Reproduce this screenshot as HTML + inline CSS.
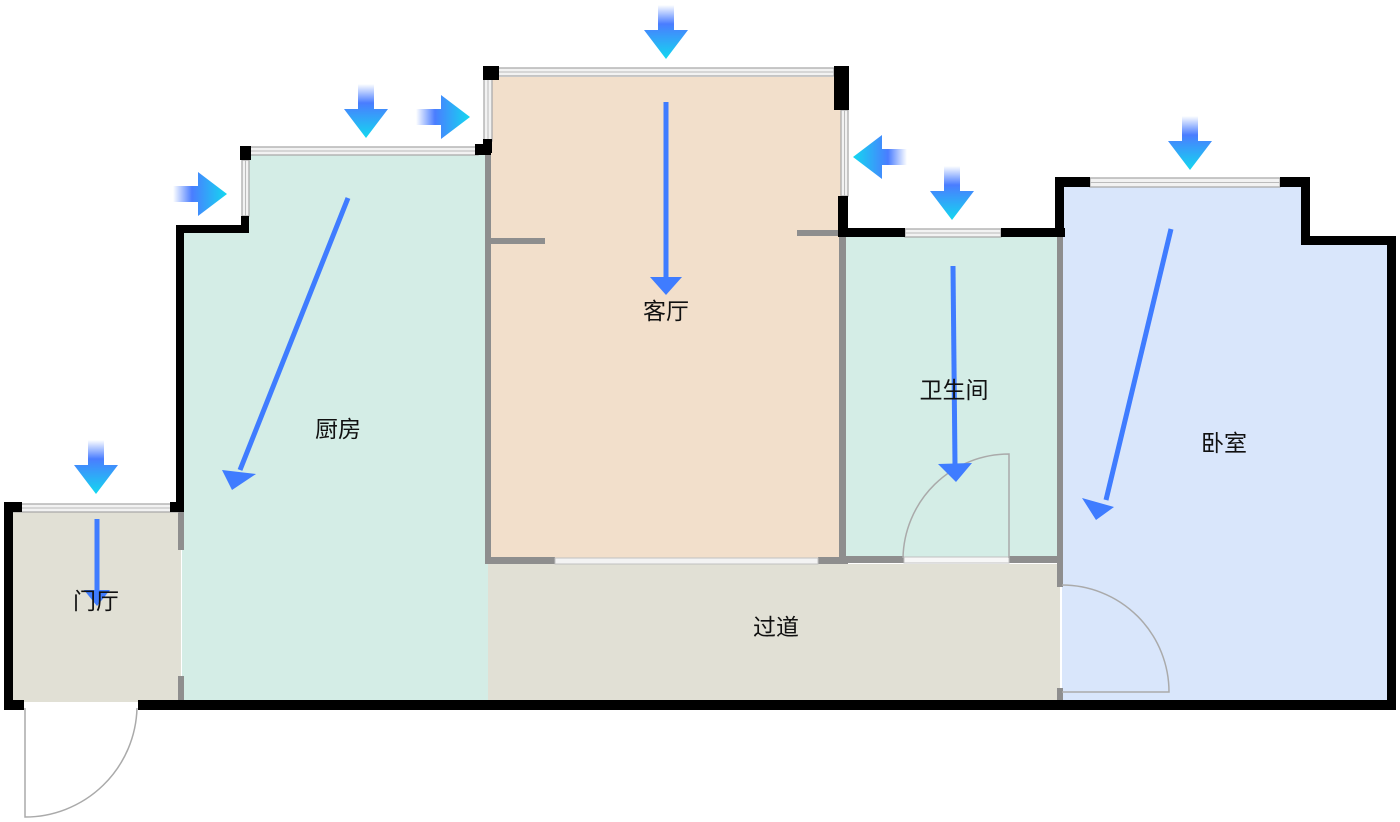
<!DOCTYPE html>
<html><head><meta charset="utf-8"><style>
html,body{margin:0;padding:0;background:#fff;width:1400px;height:822px;overflow:hidden}
text{font-family:"Liberation Sans","Noto Sans CJK SC",sans-serif;font-size:23px;fill:#111}
</style></head><body>
<svg width="1400" height="822" viewBox="0 0 1400 822" xmlns="http://www.w3.org/2000/svg">
<defs>
<linearGradient id="gd" x1="0" y1="0" x2="0" y2="1"><stop offset="0" stop-color="#fff"/><stop offset="0.35" stop-color="#4a7dff"/><stop offset="1" stop-color="#13d8f0"/></linearGradient>
<linearGradient id="gr" x1="0" y1="0" x2="1" y2="0"><stop offset="0" stop-color="#fff"/><stop offset="0.35" stop-color="#4a7dff"/><stop offset="1" stop-color="#13d8f0"/></linearGradient>
<linearGradient id="gl" x1="1" y1="0" x2="0" y2="0"><stop offset="0" stop-color="#fff"/><stop offset="0.35" stop-color="#4a7dff"/><stop offset="1" stop-color="#13d8f0"/></linearGradient>
<g id="ad"><polygon points="-8,0 8,0 8,25 22,25 0,54 -22,25 -8,25" fill="url(#gd)"/></g>
<g id="ar"><polygon points="0,-8 0,8 25,8 25,22 54,0 25,-22 25,-8" fill="url(#gr)"/></g>
<g id="al"><polygon points="0,-8 0,8 -25,8 -25,22 -54,0 -25,-22 -25,-8" fill="url(#gl)"/></g>
</defs>
<rect x="13" y="512" width="168" height="190" fill="#e1e0d5"/>
<polygon points="182,232 249,232 249,155 488,155 488,702 182,702" fill="#d4ede6"/>
<rect x="490" y="77" width="352" height="484" fill="#f2dfcb"/>
<rect x="488" y="564" width="572" height="138" fill="#e1e0d5"/>
<rect x="846" y="237" width="213" height="322" fill="#d4ede6"/>
<polygon points="1062,187 1305,187 1305,245 1390,245 1390,702 1062,702" fill="#d9e6fb"/>
<g fill="#8e8e8e">
<rect x="485" y="152" width="6" height="412"/>
<rect x="491" y="238" width="54" height="6"/>
<rect x="797" y="230" width="44" height="6"/>
<rect x="839" y="232" width="7" height="330"/>
<rect x="485" y="557" width="70" height="7"/>
<rect x="818" y="557" width="30" height="7"/>
<rect x="846" y="556" width="58" height="7"/>
<rect x="1009" y="556" width="52" height="7"/>
<rect x="1057" y="237" width="6" height="350"/>
<rect x="1057" y="688" width="6" height="14"/>
<rect x="178" y="512" width="6" height="38"/>
<rect x="178" y="676" width="6" height="26"/>
</g>
<rect x="555" y="558" width="263" height="6" fill="#f3f3f3" stroke="#c0c0c0" stroke-width="1"/>
<rect x="904" y="557" width="105" height="6" fill="#f7f7f7" stroke="#c0c0c0" stroke-width="1"/>
<g fill="#f2f2f2" stroke="#aaa" stroke-width="1.3">
<rect x="13" y="504" width="165" height="8"/>
<rect x="249" y="147" width="229" height="8"/>
<rect x="242" y="160" width="7" height="56"/>
<rect x="484" y="79" width="8" height="62"/>
<rect x="492" y="68" width="342" height="8"/>
<rect x="841" y="110" width="7" height="86"/>
<rect x="905" y="229" width="96" height="8"/>
<rect x="1090" y="178" width="190" height="9"/>
</g>
<g stroke="#bbb" stroke-width="1">
<line x1="13" y1="508" x2="178" y2="508"/>
<line x1="249" y1="151" x2="478" y2="151"/>
<line x1="245.5" y1="160" x2="245.5" y2="216"/>
<line x1="488" y1="79" x2="488" y2="141"/>
<line x1="492" y1="72" x2="834" y2="72"/>
<line x1="844.5" y1="110" x2="844.5" y2="196"/>
<line x1="905" y1="233" x2="1001" y2="233"/>
<line x1="1090" y1="182.5" x2="1280" y2="182.5"/>
</g>
<g fill="#000">
<rect x="4" y="502" width="9" height="208"/>
<rect x="4" y="502" width="18" height="10"/>
<rect x="170" y="502" width="14" height="10"/>
<rect x="176" y="225" width="8" height="287"/>
<rect x="176" y="225" width="73" height="8"/>
<rect x="241" y="216" width="8" height="17"/>
<rect x="240" y="146" width="11" height="14"/>
<rect x="475" y="144" width="16" height="11"/>
<rect x="483" y="66" width="16" height="14"/>
<rect x="483" y="139" width="9" height="14"/>
<rect x="834" y="66" width="15" height="44"/>
<rect x="838" y="196" width="10" height="41"/>
<rect x="838" y="228" width="67" height="9"/>
<rect x="1001" y="228" width="64" height="9"/>
<rect x="1055" y="177" width="9" height="60"/>
<rect x="1055" y="177" width="35" height="10"/>
<rect x="1280" y="177" width="30" height="10"/>
<rect x="1301" y="177" width="9" height="68"/>
<rect x="1301" y="236" width="95" height="9"/>
<rect x="1387" y="236" width="9" height="474"/>
<rect x="138" y="700" width="1258" height="10"/>
<rect x="4" y="700" width="20" height="10"/>
</g>
<g fill="none" stroke="#aaa" stroke-width="1.5">
<path d="M25,708 V817 A112,112 0 0 0 137,708"/>
<path d="M1009,558 V454 A106,106 0 0 0 903,558"/>
<path d="M1062,692 H1169 A107,107 0 0 0 1062,585"/>
</g>
<g stroke="#3f7cff" stroke-width="5" fill="#3f7cff">
<line x1="348" y1="198" x2="240" y2="470"/>
<polygon points="222,470 256,474 232,490" stroke="none"/>
<line x1="666" y1="102" x2="666" y2="278"/>
<polygon points="650,277 682,277 666,295" stroke="none"/>
<line x1="953" y1="266" x2="955" y2="465"/>
<polygon points="938,464 972,463 956,482" stroke="none"/>
<line x1="1171" y1="229" x2="1106" y2="500"/>
<polygon points="1082,498 1114,507 1096,520" stroke="none"/>
<line x1="97" y1="519" x2="97" y2="590"/>
<polygon points="84,590 110,590 97,606" stroke="none"/>
</g>
<use href="#ad" x="666" y="5"/>
<use href="#ad" x="366" y="84"/>
<use href="#ar" x="416" y="117"/>
<use href="#ar" x="173" y="194"/>
<use href="#al" x="907" y="157"/>
<use href="#ad" x="952" y="166"/>
<use href="#ad" x="1190" y="116"/>
<use href="#ad" x="96" y="440"/>
<text x="666" y="319" text-anchor="middle">客厅</text>
<text x="338" y="437" text-anchor="middle">厨房</text>
<text x="954" y="398" text-anchor="middle">卫生间</text>
<text x="1224" y="451" text-anchor="middle">卧室</text>
<text x="776" y="635" text-anchor="middle">过道</text>
<text x="96" y="609" text-anchor="middle">门厅</text>
</svg>
</body></html>
